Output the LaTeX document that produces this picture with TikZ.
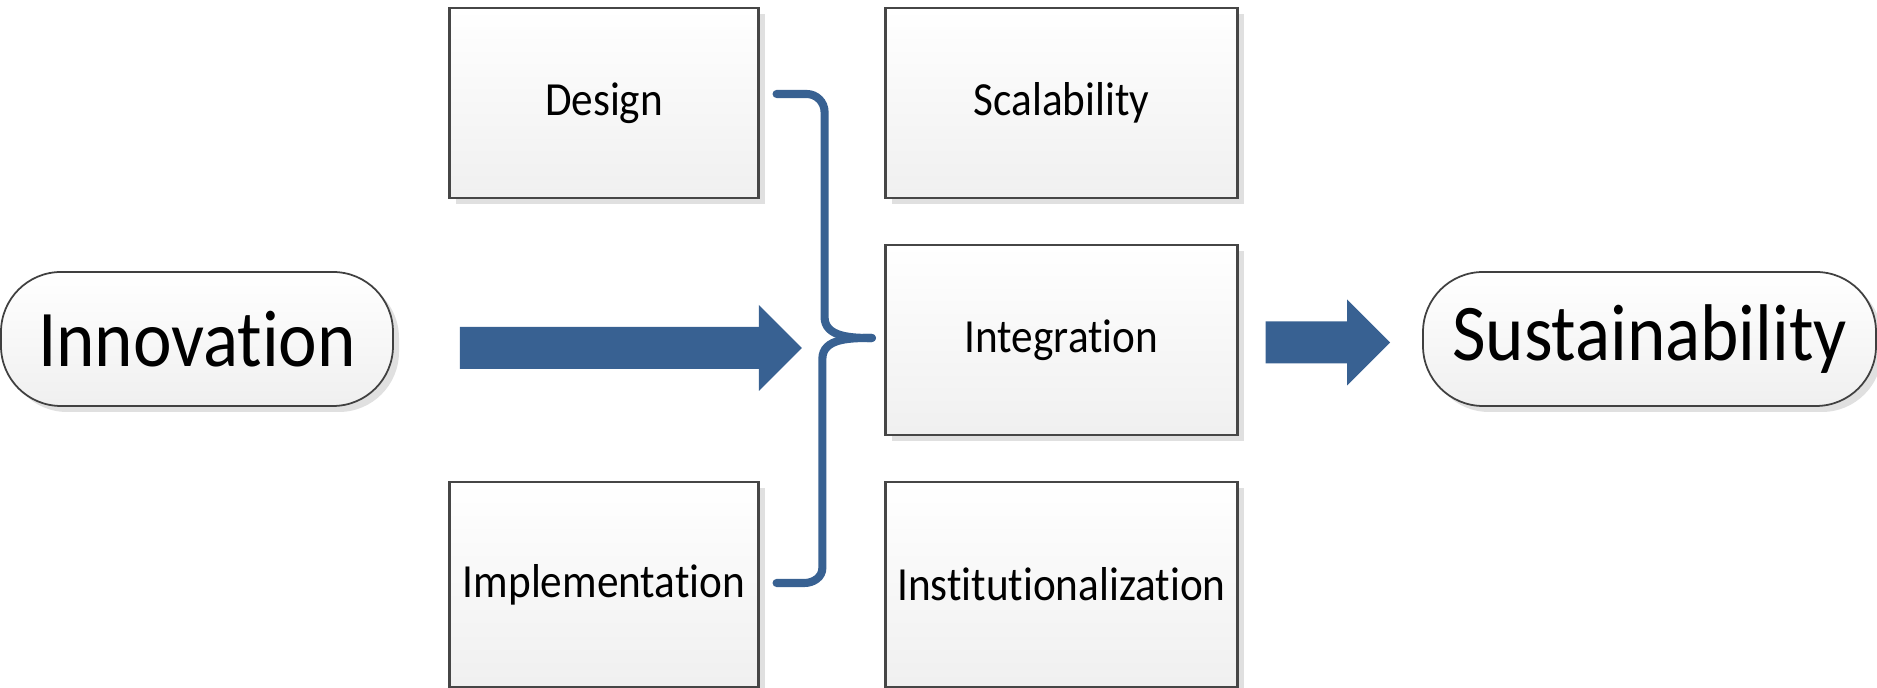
\documentclass[tikz,border=0pt]{standalone}
\usepackage{graphicx}
\usepackage{fontspec}
\setmainfont{Carlito}[Ligatures=NoCommon]
\usetikzlibrary{arrows.meta,shadows}

\definecolor{flowblue}{RGB}{56,97,146}
\definecolor{boxline}{RGB}{70,70,70}
\newcommand{\tallText}[1]{\scalebox{1}[1.1]{#1}}

\tikzset{
  stage/.style={draw=boxline, line width=0.6pt, top color=white, bottom color=black!6,
    inner sep=0pt, minimum height=1.9cm, font=\fontsize{12.3}{14}\selectfont,
    drop shadow={shadow xshift=0.6mm, shadow yshift=-0.6mm, fill=black!12, opacity=1}},
  pill/.style={draw=black!75, line width=0.5pt, rounded corners=6mm, top color=white, bottom color=black!6,
    inner sep=0pt, minimum height=1.34cm, font=\fontsize{20.8}{24}\selectfont,
    drop shadow={shadow xshift=0.6mm, shadow yshift=-0.6mm, fill=black!12, opacity=1}},
  brace line/.style={draw=flowblue, line width=2.3pt, line cap=round},
  block arrow/.style={draw=flowblue, line width=4.2mm,
    -{Triangle[length=4.3mm, width=8.6mm, line width=0pt]}}
}

\begin{document}
\begin{tikzpicture}
\useasboundingbox (0,0) rectangle (18.77,6.88);

% Start and end
\node[pill, minimum width=3.92cm] (innov) at (1.97,3.49) {\tallText{Innovation}};
\node[pill, minimum width=4.53cm] (sustain) at (16.495,3.49) {\tallText{Sustainability}};

% Left column
\node[stage, minimum width=3.09cm] (design) at (6.04,5.85) {\tallText{Design}};
\node[stage, minimum width=3.09cm, minimum height=2.05cm] (impl) at (6.04,1.035) {\tallText{Implementation}};

% Right column
\node[stage, minimum width=3.52cm] (scal) at (10.615,5.85) {\tallText{Scalability}};
\node[stage, minimum width=3.52cm] (integ) at (10.615,3.48) {\tallText{Integration}};
\node[stage, minimum width=3.52cm, minimum height=2.05cm] (instit) at (10.615,1.035) {\tallText{Institutionalization}};

% Brace joining design and implementation
\coordinate (bracetip) at ([xshift=-1.25mm,yshift=0.2mm]integ.west);
\draw[brace line] ([xshift=1.7mm,yshift=0.9mm]design.east) -- ++(0.3,0)
  to[out=0,in=90] ++(0.18,-0.18) -- ++(0,-2.05) to[out=-90,in=180] (bracetip);
\draw[brace line] (bracetip) to[out=180,in=90] ++(-0.496,-0.21) -- ++(0,-2.09)
  to[out=-90,in=0] ++(-0.18,-0.15) -- ([xshift=1.7mm,yshift=0.15mm]impl.east);

% Arrows
\draw[block arrow] ([xshift=6.6mm,yshift=-0.9mm]innov.east) -- ([xshift=-8.25mm,yshift=-0.8mm]integ.west);
\draw[block arrow] ([xshift=2.7mm,yshift=-0.25mm]integ.east) -- ([xshift=-3.2mm,yshift=-0.35mm]sustain.west);

\end{tikzpicture}
\end{document}
